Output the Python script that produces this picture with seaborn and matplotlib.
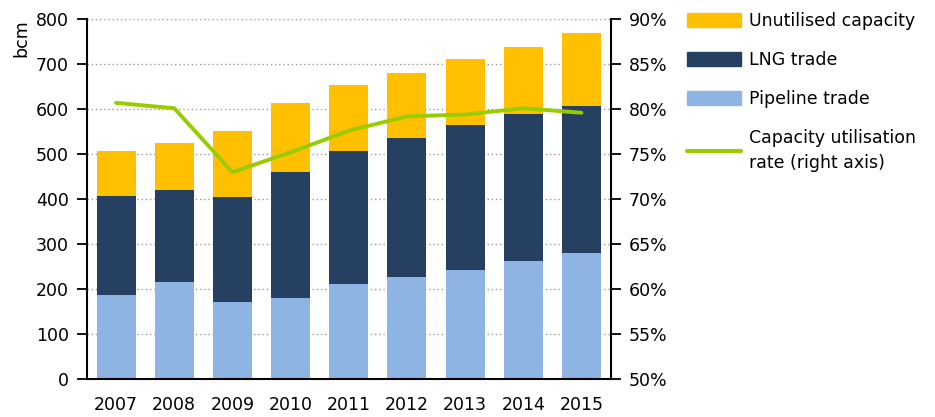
import numpy as np
import matplotlib
matplotlib.use("Agg")
import matplotlib.pyplot as plt
import matplotlib.patches as mpatches
import matplotlib.lines as mlines
import seaborn as sns
from matplotlib.ticker import FuncFormatter

years = ["2007", "2008", "2009", "2010", "2011", "2012", "2013", "2014", "2015"]
pipeline = [187, 216, 171, 180, 211, 227, 242, 262, 280]
lng = [220, 204, 234, 280, 296, 309, 323, 327, 327]
unutilised = [100, 105, 146, 154, 147, 144, 147, 149, 163]
utilisation = [80.7, 80.1, 73.0, 75.2, 77.6, 79.2, 79.4, 80.1, 79.6]

c_unused = "#FFC000"
c_lng = "#264061"
c_pipe = "#8EB4E3"
c_line = "#99CC00"

sns.set_style("white")
plt.rcParams["font.family"] = ["DejaVu Sans"]
plt.rcParams["font.size"] = 12.5
plt.rcParams["text.color"] = "black"
plt.rcParams["axes.labelcolor"] = "black"
plt.rcParams["xtick.color"] = "black"
plt.rcParams["ytick.color"] = "black"

fig = plt.figure(figsize=(9.35, 4.17), dpi=100)
ax = fig.add_axes([0.093, 0.091, 0.560, 0.863])

# stacked bars: draw cumulative heights back to front
trade = np.array(pipeline) + np.array(lng)
capacity = trade + np.array(unutilised)
for heights, col in [(capacity, c_unused), (trade, c_lng), (pipeline, c_pipe)]:
    sns.barplot(x=years, y=heights, color=col, width=0.67, saturation=1,
                linewidth=0, ax=ax, zorder=2)

ax.set_ylim(0, 800)
ax.set_xlim(-0.5, 8.5)
ax.set_yticks(range(0, 801, 100))
ax.yaxis.grid(True, linestyle=(0, (1, 2)), color="#9a9a9a", linewidth=1)
ax.set_axisbelow(True)
ax.set_ylabel("bcm", loc="top", labelpad=4)
ax.set_xlabel("")

ax.set_xticks(np.arange(-0.5, 9, 1), minor=True)
ax.tick_params(axis="x", which="major", length=0, pad=12)
ax.tick_params(axis="x", which="minor", length=7, width=1.3, color="black", direction="out")
ax.tick_params(axis="y", length=7, width=1.3, color="black", direction="out", left=True, pad=6)

for side in ["left", "bottom"]:
    ax.spines[side].set_linewidth(1.5)
    ax.spines[side].set_color("black")
ax.spines["top"].set_visible(False)
ax.spines["right"].set_visible(False)

ax2 = ax.twinx()
sns.lineplot(x=np.arange(len(years)), y=utilisation, color=c_line, linewidth=2.8, ax=ax2)
ax2.set_ylim(50, 90)
ax2.set_yticks(range(50, 91, 5))
ax2.yaxis.set_major_formatter(FuncFormatter(lambda v, p: f"{v:.0f}%"))
ax2.tick_params(axis="y", length=7, width=1.3, color="black", direction="out", right=True, pad=6)
ax2.spines["right"].set_linewidth(1.5)
ax2.spines["right"].set_color("black")
for side in ["top", "left", "bottom"]:
    ax2.spines[side].set_visible(False)
ax2.set_xlim(-0.5, 8.5)

handles = [
    mpatches.Patch(color=c_unused, label="Unutilised capacity"),
    mpatches.Patch(color=c_lng, label="LNG trade"),
    mpatches.Patch(color=c_pipe, label="Pipeline trade"),
    mlines.Line2D([], [], color=c_line, linewidth=3, label="Capacity utilisation\nrate (right axis)"),
]
leg = fig.legend(handles=handles, loc="upper left", bbox_to_anchor=(0.722, 1.0), frameon=False,
                 handlelength=3.1, handleheight=0.9, handletextpad=0.45, labelspacing=1.2,
                 borderaxespad=0.3, fontsize=12.5)
for t in leg.get_texts():
    t.set_linespacing(1.55)

fig.savefig("out.png", dpi=100)
